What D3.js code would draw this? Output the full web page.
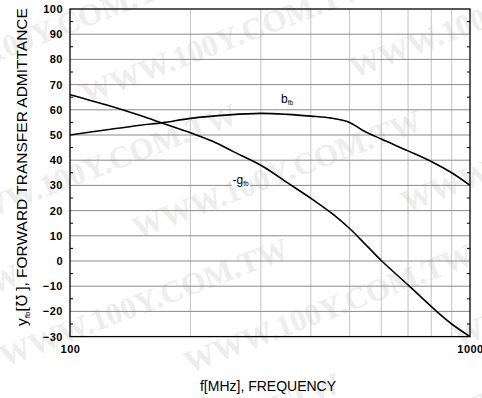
<!DOCTYPE html>
<html>
<head>
<meta charset="utf-8">
<script src="https://cdn.jsdelivr.net/npm/d3@7/dist/d3.min.js"></script>
<style>
  html, body { margin: 0; padding: 0; background: #fff; }
  svg { display: block; }
  .sans { font-family: "Liberation Sans", Arial, Helvetica, sans-serif; }
  .serif { font-family: "Liberation Serif", "Times New Roman", serif; }
</style>
</head>
<body>
<svg id="chart" width="482" height="398"></svg>
<script>
// Frequency axis (MHz, log) and admittance axis (mmho)
const xDomain = [100, 1000];
const yDomain = [-30, 100];
const xGridValues = [200, 300, 400, 500, 600, 700, 800, 900];
const xTickLabels = [100, 1000];
const yTickValues = [-30, -20, -10, 0, 10, 20, 30, 40, 50, 60, 70, 80, 90, 100];
const yMinorValues = [-25, -15, -5, 5, 15, 25, 35, 45, 55, 65, 75, 85, 95];

// b_fb : forward transfer susceptance
const bFreq = [100, 125, 150, 171, 200, 250, 300, 350, 400, 450, 500, 540, 600, 700, 800, 900, 1000];
const bVals = [50, 52.2, 53.9, 54.9, 56.6, 58.0, 58.6, 58.2, 57.5, 56.7, 55.0, 51.8, 48.4, 43.7, 39.5, 35.0, 30];

// -g_fb : forward transfer conductance (negated)
const gFreq = [100, 126, 150, 171, 200, 228, 256, 300, 350, 400, 455, 500, 550, 600, 700, 825, 900, 1000];
const gVals = [66, 61.5, 57.7, 54.6, 50.9, 47.4, 43.4, 38.0, 31.0, 24.9, 18.5, 12.9, 6.3, 0.2, -9.5, -20, -25, -30];

const watermark = "WWW.100Y.COM.TW";

const svg = d3.select("#chart");
const margin = { left: 70, top: 9, right: 12, bottom: 61.4 };
const W = 482 - margin.left - margin.right;   // 400
const H = 398 - margin.top - margin.bottom;   // 327.6

const x = d3.scaleLog().domain(xDomain).range([0, W]);
const y = d3.scaleLinear().domain(yDomain).range([H, 0]);

// faint background lettering, tiled diagonally
const wm = svg.append("g").attr("transform", "rotate(-21 241 199)");
d3.range(-5, 8).forEach((r, i) => {
  d3.range(-2, 3).forEach(c => {
    wm.append("text")
      .attr("class", "serif")
      .attr("x", c * 430 + (i % 2) * 170 - 40)
      .attr("y", 199 + r * 72)
      .attr("font-weight", "bold")
      .attr("font-size", 31)
      .attr("fill", "#ededed")
      .text(watermark);
  });
});
// drop tiles that fall completely outside the drawing
const svgBox = svg.node().getBoundingClientRect();
wm.selectAll("text").each(function() {
  const b = this.getBoundingClientRect();
  if (b.right < svgBox.left || b.left > svgBox.right || b.bottom < svgBox.top || b.top > svgBox.bottom) {
    d3.select(this).remove();
  }
});

const g = svg.append("g").attr("transform", `translate(${margin.left},${margin.top})`);

// vertical grid
g.append("g").selectAll("line").data(xGridValues).join("line")
  .attr("x1", d => x(d)).attr("x2", d => x(d))
  .attr("y1", 0).attr("y2", H)
  .attr("stroke", "#c4c4c4").attr("stroke-width", 1);

// horizontal grid
g.append("g").selectAll("line").data(yTickValues.slice(1, -1)).join("line")
  .attr("x1", 0).attr("x2", W)
  .attr("y1", d => y(d)).attr("y2", d => y(d))
  .attr("stroke", "#8a8a8a").attr("stroke-width", 1);

// minor ticks on left and right edges
g.append("g").selectAll("line").data(yMinorValues).join("line")
  .attr("x1", 0).attr("x2", 3)
  .attr("y1", d => y(d)).attr("y2", d => y(d))
  .attr("stroke", "#000").attr("stroke-width", 1);
g.append("g").selectAll("line").data(yMinorValues).join("line")
  .attr("x1", W - 3).attr("x2", W)
  .attr("y1", d => y(d)).attr("y2", d => y(d))
  .attr("stroke", "#000").attr("stroke-width", 1);

// frame
g.append("rect").attr("x", 0).attr("y", 0).attr("width", W).attr("height", H)
  .attr("fill", "none").attr("stroke", "#000").attr("stroke-width", 1.3);

// y tick labels
const yAxis = d3.axisLeft(y).tickValues(yTickValues).tickSize(0).tickPadding(7).tickFormat(d3.format("d"));
const ya = g.append("g").call(yAxis);
ya.select(".domain").remove();
ya.selectAll("text")
  .attr("class", "sans")
  .attr("font-size", 11).attr("font-weight", "bold")
  .attr("letter-spacing", 0.5).attr("fill", "#000");

// x tick labels
const xAxis = d3.axisBottom(x).tickValues(xTickLabels).tickSize(0).tickPadding(9).tickFormat(d3.format("d"));
const xa = g.append("g").attr("transform", `translate(0,${H})`).call(xAxis);
xa.select(".domain").remove();
xa.selectAll("text")
  .attr("class", "sans")
  .attr("font-size", 11).attr("font-weight", "bold")
  .attr("letter-spacing", 0.5).attr("fill", "#000");

// curves
const line = d3.line().x(d => x(d[0])).y(d => y(d[1])).curve(d3.curveCatmullRom.alpha(0.5));
g.append("path").datum(d3.zip(bFreq, bVals)).attr("d", line)
  .attr("fill", "none").attr("stroke", "#000").attr("stroke-width", 1.6);
g.append("path").datum(d3.zip(gFreq, gVals)).attr("d", line)
  .attr("fill", "none").attr("stroke", "#000").attr("stroke-width", 1.6);

// curve labels
function curveLabel(main, sub, fx, vy, boxed) {
  const t = g.append("text").attr("class", "sans")
    .attr("x", x(fx)).attr("y", y(vy))
    .attr("font-size", 12).attr("fill", "#000");
  t.append("tspan").text(main);
  t.append("tspan").attr("font-size", 6.5).attr("dy", 2).text(sub);
  if (boxed) {
    const bb = t.node().getBBox();
    g.insert("rect", function() { return t.node(); })
      .attr("x", bb.x - 1).attr("y", bb.y + 1).attr("width", bb.width + 2).attr("height", bb.height - 1)
      .attr("fill", "#fff");
  }
}
curveLabel("b", "fb", 337, 62.6, false);
curveLabel("-g", "fb", 255, 30.4, true);

// axis titles
svg.append("text").attr("class", "sans")
  .attr("x", margin.left + W / 2 - 2).attr("y", 391)
  .attr("text-anchor", "middle").attr("font-size", 14).attr("fill", "#000")
  .text("f[MHz], FREQUENCY");

const yt = svg.append("text").attr("class", "sans")
  .attr("transform", `translate(27,${167}) rotate(-90)`)
  .attr("text-anchor", "middle").attr("font-size", 15.5).attr("fill", "#000");
yt.append("tspan").text("y");
yt.append("tspan").attr("font-size", 8).attr("dy", 3).text("fb");
yt.append("tspan").attr("dy", -3).text("[\u2127 ], FORWARD TRANSFER ADMITTANCE");
</script>
</body>
</html>
